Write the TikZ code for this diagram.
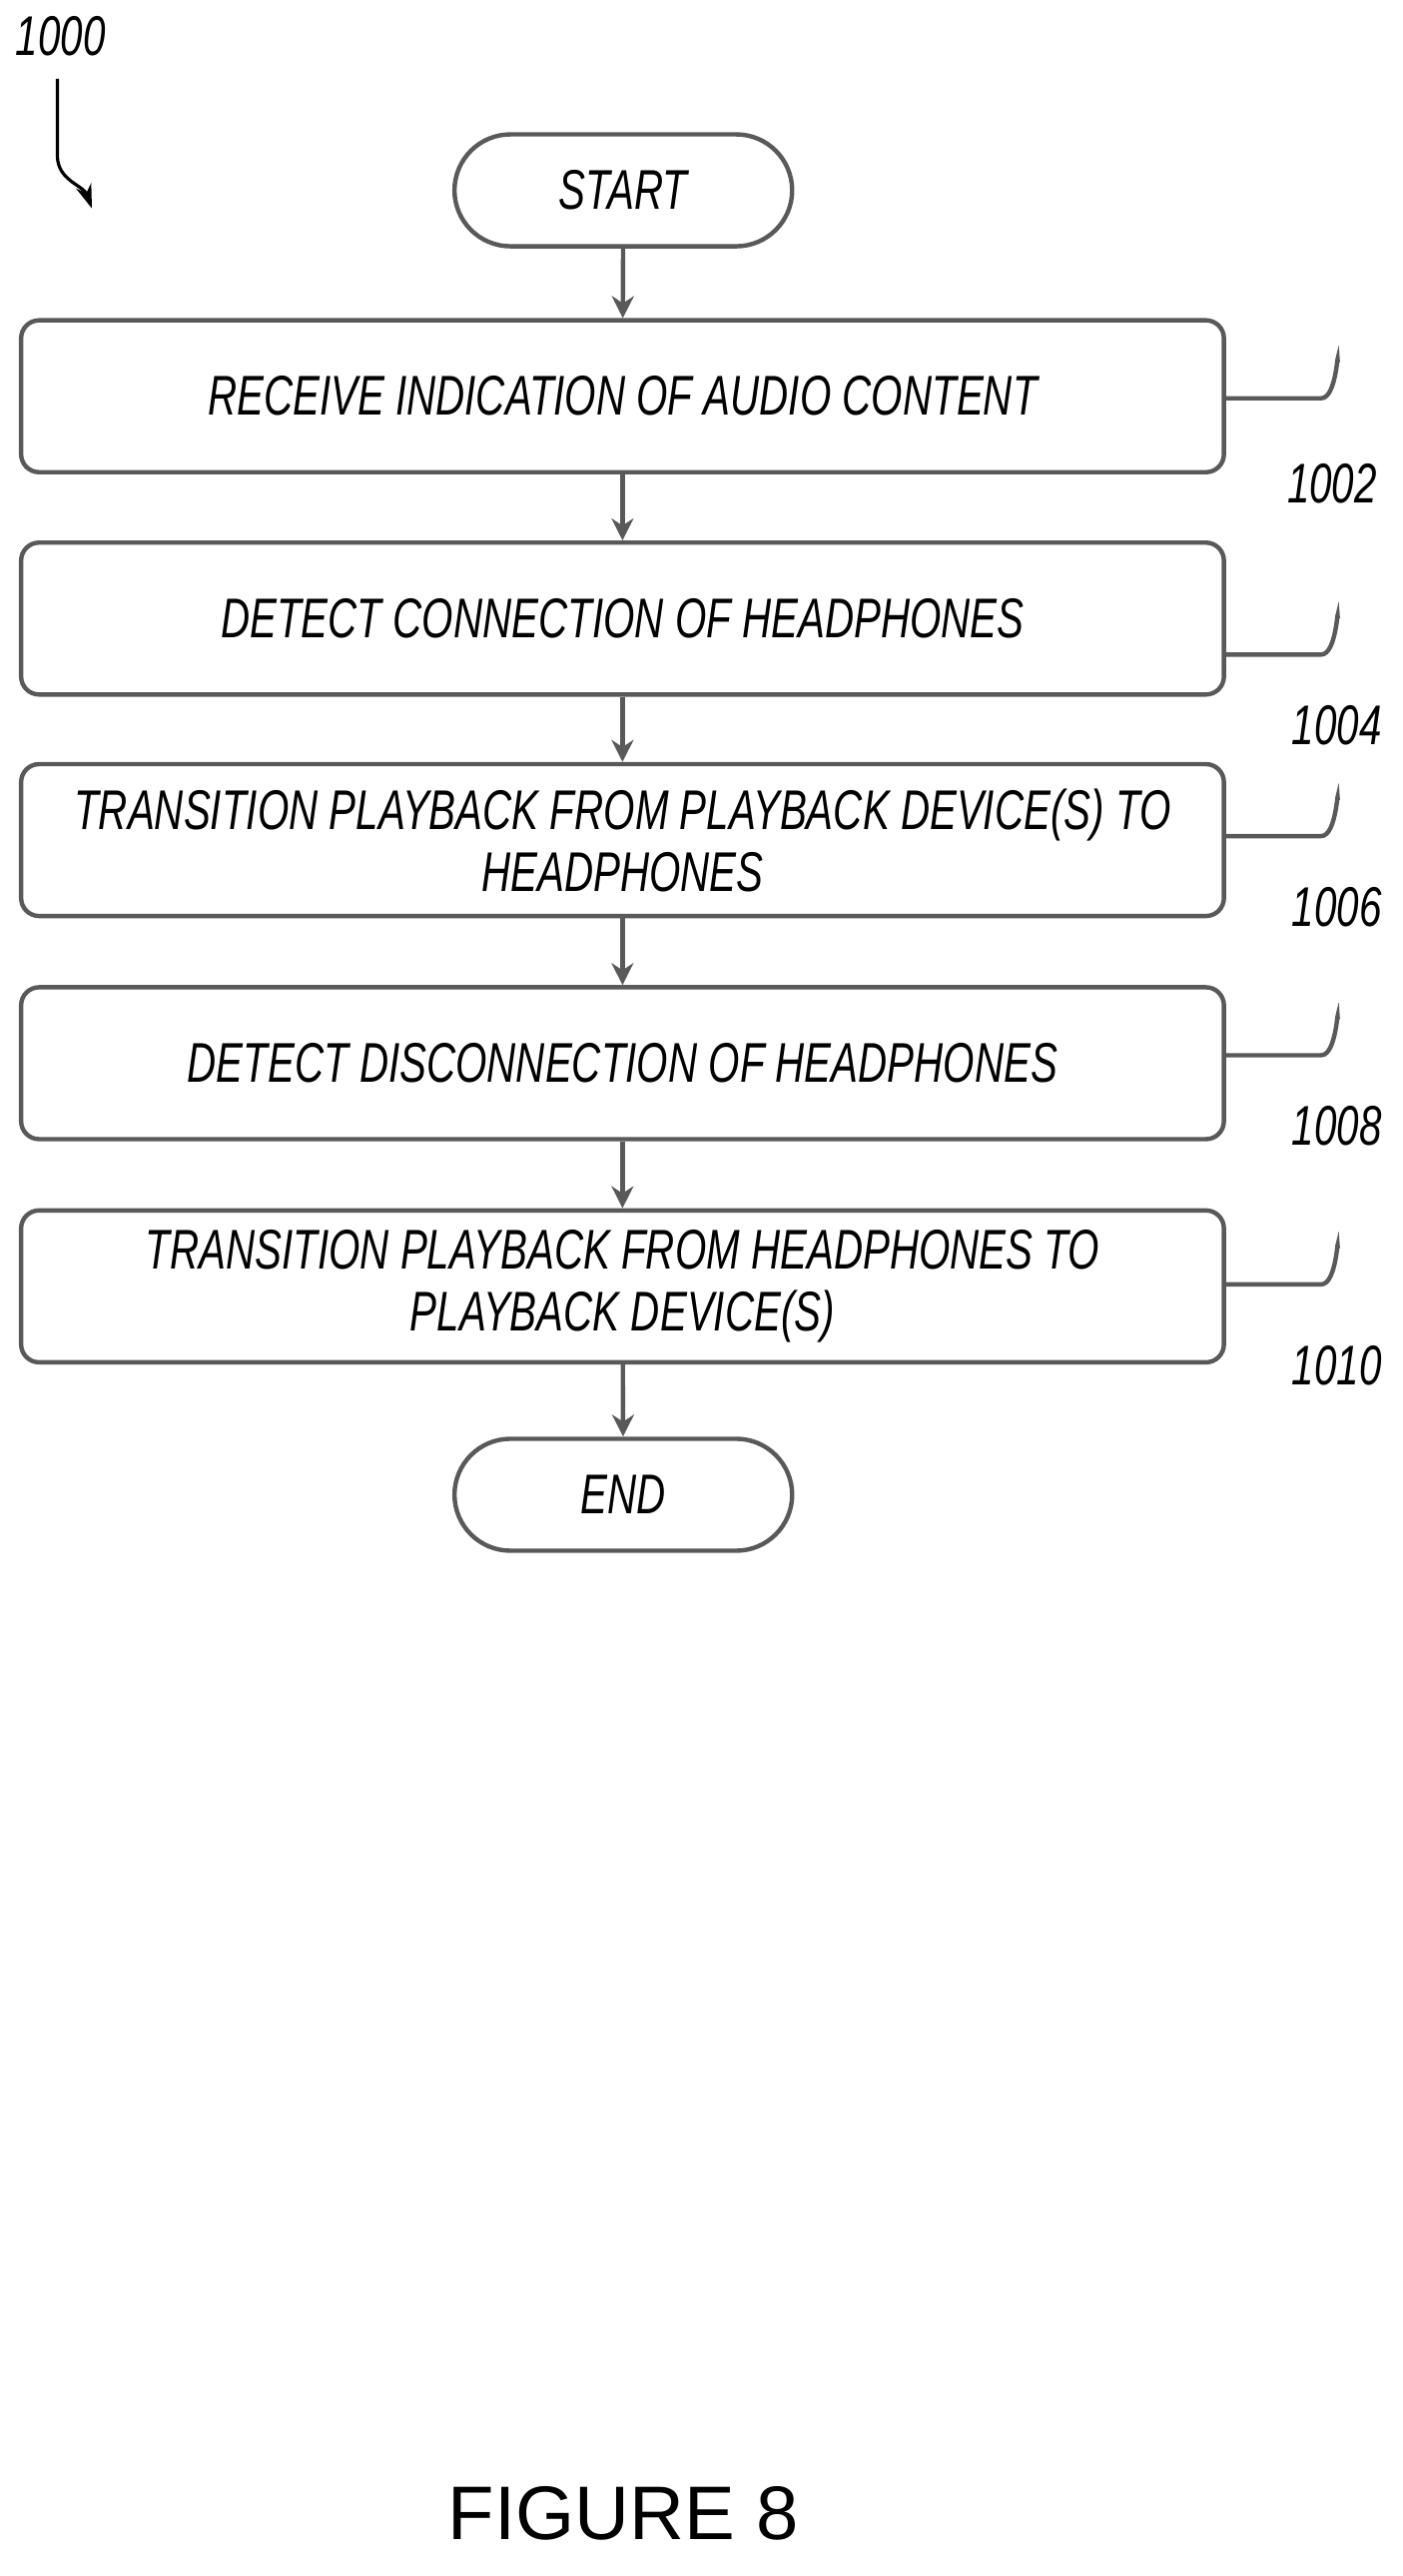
\documentclass[tikz,border=0pt]{standalone}
\usepackage{fontspec}
\setmainfont{Liberation Sans}
\newfontfamily\narrowit{Liberation Sans}[FakeStretch=0.72,ItalicFont=* Italic]
\usetikzlibrary{arrows.meta}
\begin{document}
\begin{tikzpicture}[x=0.821pt,y=-0.821pt,
  ln/.style={draw=black!65,line width=2.2pt},
  box/.style={ln,rounded corners=9pt,minimum width=602pt,minimum height=76pt,align=center,font=\narrowit\itshape\fontsize{28}{31}\selectfont},
  term/.style={ln,rounded corners=28pt,minimum width=169pt,minimum height=56pt,font=\narrowit\itshape\fontsize{28}{31}\selectfont},
  ref/.style={font=\narrowit\itshape\fontsize{28}{31}\selectfont},
  flow/.style={ln,-{Stealth[length=11pt,width=11pt]}},
  lead/.style={draw=black!65,line width=2.2pt}]
\useasboundingbox (0,0) rectangle (855,1570);
\node[term] (start) at (380,116) {START};
\node[box] (b1) at (379.5,241.5) {RECEIVE INDICATION OF AUDIO CONTENT};
\node[box] (b2) at (379.5,377) {DETECT CONNECTION OF HEADPHONES};
\node[box] (b3) at (379.5,512) {TRANSITION PLAYBACK FROM PLAYBACK DEVICE(S) TO\\HEADPHONES};
\node[box] (b4) at (379.5,648) {DETECT DISCONNECTION OF HEADPHONES};
\node[box] (b5) at (379.5,784) {TRANSITION PLAYBACK FROM HEADPHONES TO\\PLAYBACK DEVICE(S)};
\node[term] (end) at (380,911) {END};
\draw[flow] (start) -- (b1);
\draw[flow] (b1) -- (b2);
\draw[flow] (b2) -- (b3);
\draw[flow] (b3) -- (b4);
\draw[flow] (b4) -- (b5);
\draw[flow] (b5) -- (end);
\node[ref] (r0) at (37,22) {1000};
\node[ref] (r1) at (812,295) {1002};
\node[ref] (r2) at (815,442) {1004};
\node[ref] (r3) at (815,553) {1006};
\node[ref] (r4) at (815,686) {1008};
\node[ref] (r5) at (815,832) {1010};
\draw[lead] ([yshift=-1pt]b1.east) -- ++(58,0) to[out=0,in=90] ++(10,-22);
\draw[lead] ([yshift=-18pt]b2.east) -- ++(58,0) to[out=0,in=90] ++(10,-22);
\draw[lead] ([yshift=2pt]b3.east) -- ++(58,0) to[out=0,in=90] ++(10,-22);
\draw[lead] ([yshift=4pt]b4.east) -- ++(58,0) to[out=0,in=90] ++(10,-22);
\draw[lead] ([yshift=1pt]b5.east) -- ++(58,0) to[out=0,in=90] ++(10,-22);
\coordinate (a0) at (35,48);
\coordinate (a1) at (56,127);
\draw[line width=1.6pt,-{Stealth[length=12pt,width=8pt]}] (a0) -- (35,95) to[out=-90,in=110] (a1);
\node[font=\fontsize{38}{42}\selectfont] (fig) at (380,1532) {FIGURE 8};
\end{tikzpicture}
\end{document}
